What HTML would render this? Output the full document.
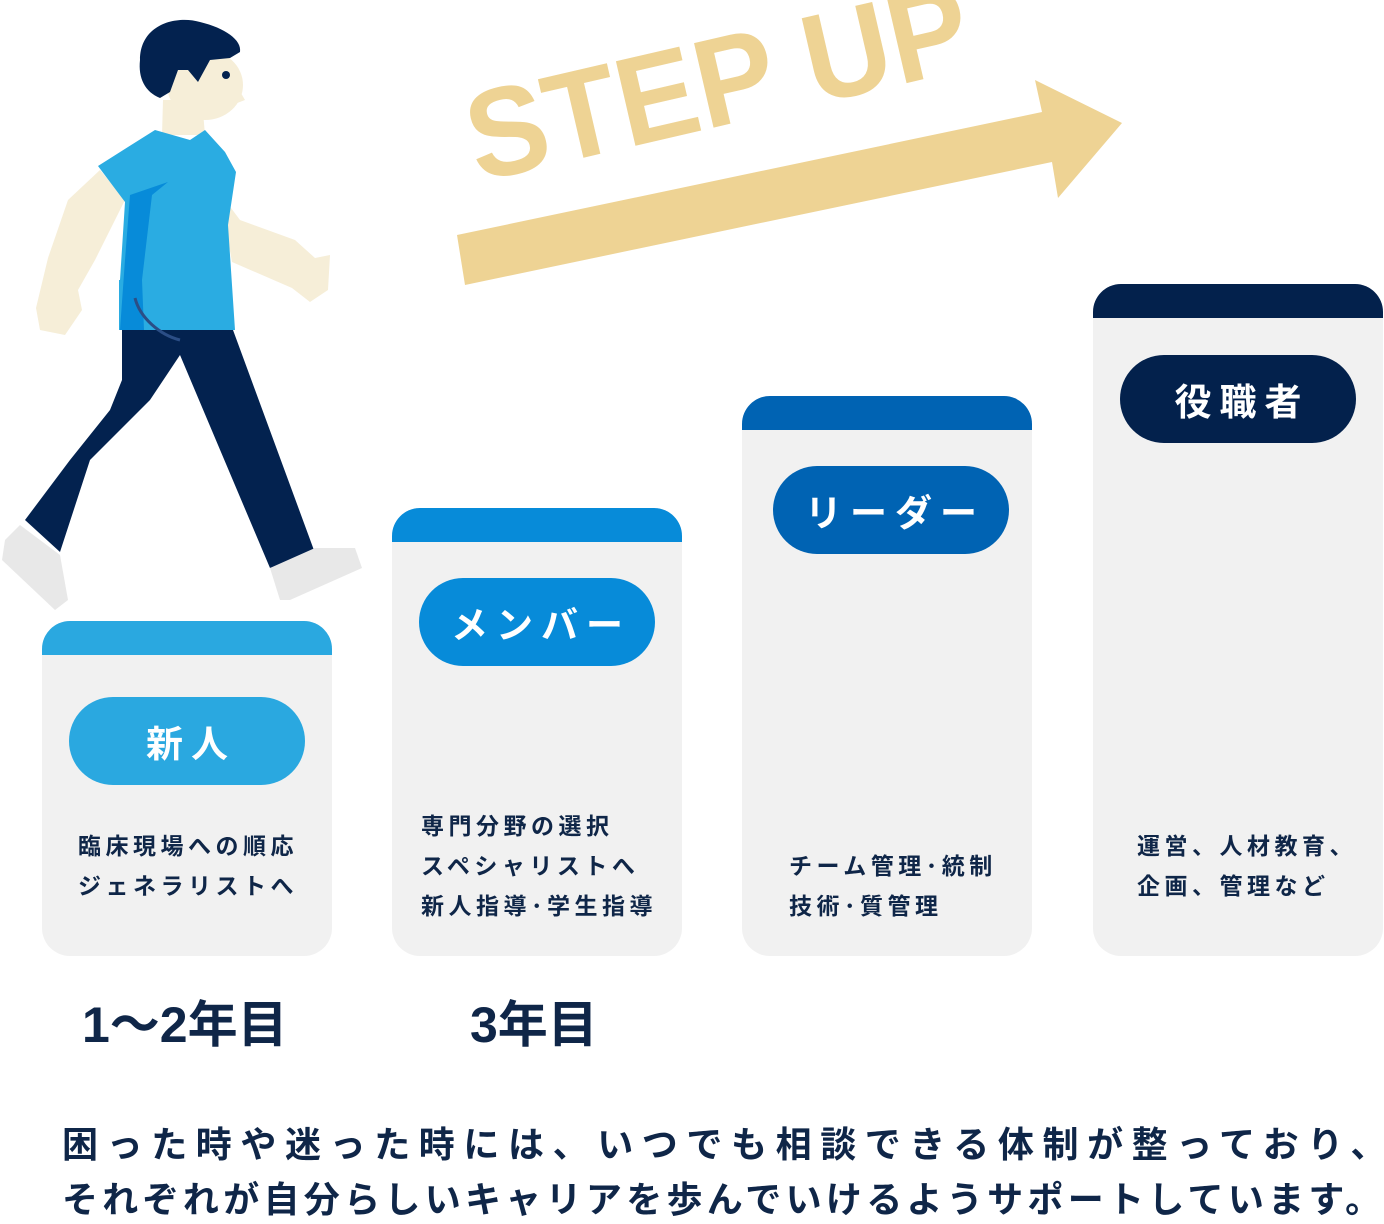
<!DOCTYPE html>
<html><head><meta charset="utf-8"><style>
body{margin:0;width:1384px;height:1224px;background:#fff;position:relative;overflow:hidden;font-family:"Liberation Sans","Noto Sans CJK JP",sans-serif;color:#0f2648}
.card{position:absolute;width:290px;background:#f1f1f1;border-radius:28px;overflow:hidden}
.card .hd{height:34px}
.pill{position:absolute;width:236px;height:88px;border-radius:44px;color:#fff;font-weight:bold;font-size:37px;letter-spacing:8px;display:flex;align-items:center;justify-content:center;text-indent:8px}
.txt{position:absolute;font-size:23px;font-weight:bold;line-height:40px;letter-spacing:4.5px;white-space:nowrap}
.yr{position:absolute;font-size:50px;font-weight:bold;top:985px;white-space:nowrap}
.bt{position:absolute;left:62px;font-size:36px;font-weight:bold;white-space:nowrap;line-height:40px}
</style></head><body>
<svg width="1384" height="1224" style="position:absolute;left:0;top:0">
<polygon points="457,235 1042,112 1035,80 1122,123 1058,198 1052,162 465,285" fill="#eed394"/>
<text x="478" y="182" transform="rotate(-13 478 182)" font-family="Liberation Sans" font-weight="bold" font-size="126" fill="#eed394" textLength="512" lengthAdjust="spacingAndGlyphs">STEP UP</text>
<g>
<path d="M100,170 L68,200 L48,258 L36,308 L40,330 L65,335 L82,310 L78,290 L95,260 L125,200 Z" fill="#f6eed8"/>
<path d="M225,200 L240,220 L295,240 L315,258 L330,255 L328,290 L310,302 L292,288 L232,262 L228,240 Z" fill="#f6eed8"/>
<path d="M163,100 L162,135 L205,135 L202,100 Z" fill="#f6eed8"/>
<ellipse cx="205" cy="85" rx="38" ry="35" fill="#f6eed8"/>
<path d="M238,88 L245,100 L232,105 Z" fill="#f6eed8"/>
<path d="M140,60 C140,25 175,15 200,22 C225,28 242,40 240,52 L230,58 L210,60 L198,82 L188,70 L178,70 L170,92 L160,98 C145,92 138,78 140,60 Z" fill="#03224f"/>
<circle cx="226" cy="75" r="4" fill="#03224f"/>
<path d="M155,130 L98,166 L125,202 L120,280 L119,280 L119,330 L235,330 L228,225 L236,172 L225,152 L205,130 L190,140 Z" fill="#2aace2"/>
<path d="M130,195 L168,182 L152,195 L142,280 L142,280 L144,330 L120,330 L125,260 Z" fill="#078bd9"/>
<path d="M122,330 L233,330 L315,553 L270,568 L218,445 L180,355 L150,400 L90,460 L60,552 L25,520 L70,460 L110,410 L122,380 Z" fill="#03224f"/>
<path d="M135,298 C140,318 160,335 180,340" stroke="#2b4e86" stroke-width="3" fill="none"/>
<path d="M20,525 L60,555 L68,600 L55,610 L2,560 L5,540 Z" fill="#e8e8e8"/>
<path d="M270,568 L315,548 L355,548 L362,568 L290,600 L280,600 Z" fill="#e8e8e8"/>
</g>
</svg>

<div class="card" style="left:42px;top:621px;height:335px"><div class="hd" style="background:#2aa8e0"></div></div>
<div class="card" style="left:392px;top:508px;height:448px"><div class="hd" style="background:#078bd9"></div></div>
<div class="card" style="left:742px;top:396px;height:560px"><div class="hd" style="background:#0063b3"></div></div>
<div class="card" style="left:1093px;top:284px;height:672px"><div class="hd" style="background:#03214c"></div></div>

<div class="pill" style="left:69px;top:697px;background:#2aa8e0">新人</div>
<div class="pill" style="left:419px;top:578px;background:#078bd9">メンバー</div>
<div class="pill" style="left:773px;top:466px;background:#0063b3">リーダー</div>
<div class="pill" style="left:1120px;top:355px;background:#03214c">役職者</div>

<div class="txt" style="left:78px;top:826px">臨床現場への順応<br>ジェネラリストへ</div>
<div class="txt" style="left:421px;top:806px">専門分野の選択<br>スペシャリストへ<br>新人指導･学生指導</div>
<div class="txt" style="left:789px;top:846px">チーム管理･統制<br>技術･質管理</div>
<div class="txt" style="left:1137px;top:826px">運営、人材教育、<br>企画、管理など</div>

<div class="yr" style="left:82px">1〜2年目</div>
<div class="yr" style="left:470px">3年目</div>

<div class="bt" style="top:1125px;letter-spacing:8.6px">困った時や迷った時には、いつでも相談できる体制が整っており、</div>
<div class="bt" style="top:1180px;letter-spacing:4.3px">それぞれが自分らしいキャリアを歩んでいけるようサポートしています。</div>
</body></html>
